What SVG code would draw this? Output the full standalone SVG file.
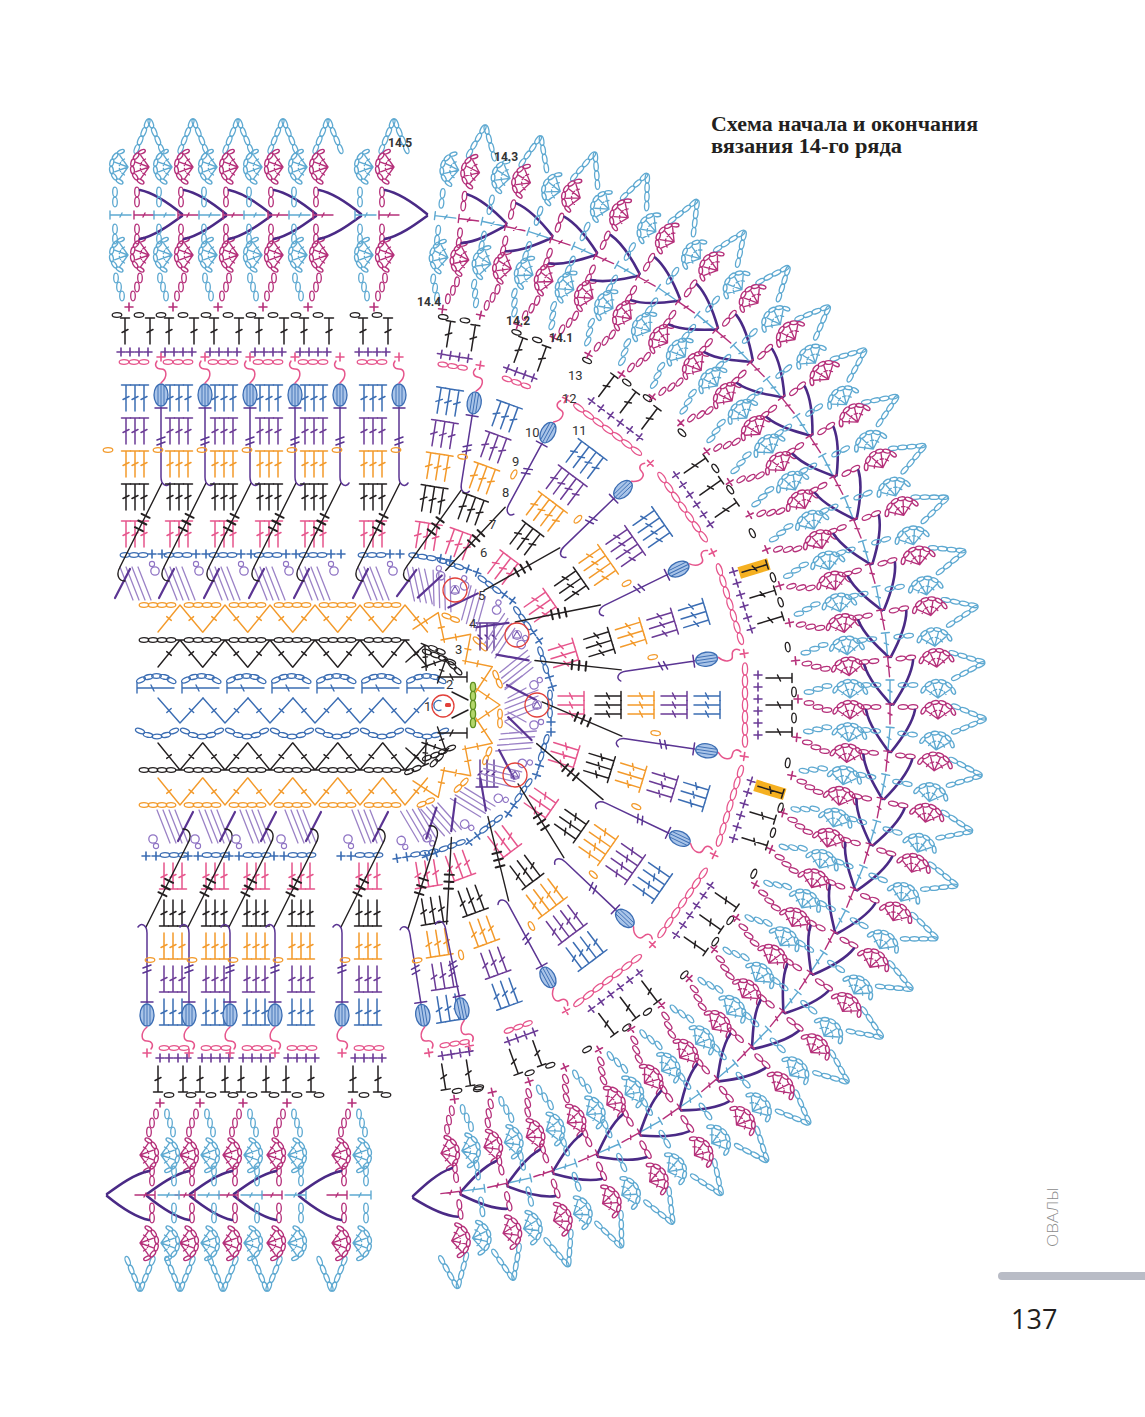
<svg xmlns="http://www.w3.org/2000/svg" width="1145" height="1417" viewBox="0 0 1145 1417">
<style>
.k{fill:none;stroke-linecap:round;stroke-linejoin:round}
.lb{font-family:Roboto,'DejaVu Sans',sans-serif;font-size:13px;fill:#333}
.lb2{font-family:Roboto,'DejaVu Sans',sans-serif;font-size:12px;font-weight:700;fill:#333}
</style>
<defs>
<ellipse id="o" class="k" rx="4.8" ry="2.3" stroke="currentColor" stroke-width="1.3"/>
<ellipse id="oy" class="k" rx="2.3" ry="4.8" stroke="currentColor" stroke-width="1.3"/>
<ellipse id="oyL" class="k" rx="2.6" ry="6.2" stroke="currentColor" stroke-width="1.3"/>
<path id="p" class="k" d="M-4 0H4M0 -4V4" stroke="currentColor" stroke-width="1.6"/>
<path id="t" class="k" d="M0 0H26M26 -4.5V4.5M11.5 -3L14.5 3" stroke="currentColor" stroke-width="1.5"/>
<g id="t3"><use href="#t" y="-9"/><use href="#t"/><use href="#t" y="9"/></g>
<g id="t4"><use href="#t" y="-13.5"/><use href="#t" y="-4.5"/><use href="#t" y="4.5"/><use href="#t" y="13.5"/></g>
<g id="fan" class="k" stroke="currentColor" stroke-width="1.6" transform="scale(0.84)">
<path d="M0 0L-13.9 -9.8M0 0L-5.8 -16M0 0L5.8 -16M0 0L13.9 -9.8M-9.5 -4.2L-7.2 -7.5M-5.4 -8.9L-1.6 -10.3M1.6 -10.3L5.4 -8.9M7.2 -7.5L9.5 -4.2"/>
<ellipse cx="-17.3" cy="-10" rx="4.4" ry="2.2" transform="rotate(300 -17.3 -10)"/>
<ellipse cx="-11.5" cy="-16.4" rx="4.4" ry="2.2" transform="rotate(325 -11.5 -16.4)"/>
<ellipse cx="-3.5" cy="-19.7" rx="4.4" ry="2.2" transform="rotate(350 -3.5 -19.7)"/>
<ellipse cx="5.2" cy="-19.3" rx="4.4" ry="2.2" transform="rotate(15 5.2 -19.3)"/>
<ellipse cx="12.9" cy="-15.3" rx="4.4" ry="2.2" transform="rotate(40 12.9 -15.3)"/>
<ellipse cx="18.1" cy="-8.5" rx="4.4" ry="2.2" transform="rotate(65 18.1 -8.5)"/>
</g>
<g id="arch" class="k" stroke="currentColor" stroke-width="1.3">
<ellipse cx="4" cy="1.7" rx="4.8" ry="2.2" transform="rotate(22 4 1.7)"/>
<ellipse cx="12.6" cy="5.2" rx="4.8" ry="2.2" transform="rotate(22 12.6 5.2)"/>
<ellipse cx="21" cy="8.7" rx="4.8" ry="2.2" transform="rotate(22 21 8.7)"/>
<ellipse cx="29.6" cy="12.2" rx="4.8" ry="2.2" transform="rotate(22 29.6 12.2)"/>
<ellipse cx="29.6" cy="15.8" rx="4.8" ry="2.2" transform="rotate(-22 29.6 15.8)"/>
<ellipse cx="21" cy="19.3" rx="4.8" ry="2.2" transform="rotate(-22 21 19.3)"/>
<ellipse cx="12.6" cy="22.8" rx="4.8" ry="2.2" transform="rotate(-22 12.6 22.8)"/>
<ellipse cx="4" cy="26.3" rx="4.8" ry="2.2" transform="rotate(-22 4 26.3)"/>
</g>
<g id="stackL">
<path class="k" d="M138 -15L105 -2M138 -9L105 4M138 -3L105 10M138 3L105 16" stroke="#9b82c6" stroke-width="1.3"/>
<path class="k" d="M107 -20L136 -5" stroke="#5b3593" stroke-width="2.2"/>
<circle class="k" cx="134" cy="20" r="4.2" stroke="#8f74c4" stroke-width="1.3"/>
<circle class="k" cx="141" cy="17" r="2.6" stroke="#8f74c4" stroke-width="1.1"/>
<g color="#3b6db3"><use href="#oy" x="150" y="-10"/><use href="#oy" x="150" y="-1"/><use href="#oy" x="150" y="8"/><use href="#p" x="151" y="17"/><use href="#p" x="151" y="27"/></g>
</g>
<g id="stack">
<use href="#stackL"/>
<use href="#t3" x="158" color="#e6558c"/>
<use href="#t3" x="195" color="#231f20"/>
<use href="#t3" x="228" color="#f39a2b"/>
<use href="#t3" x="261" color="#6b3b96"/>
<use href="#t3" x="294" color="#3b6db3"/>
</g>
<g id="stack4">
<use href="#stackL"/>
<use href="#t3" x="158" color="#e6558c"/>
<use href="#t3" x="195" color="#231f20"/>
<use href="#t4" x="228" color="#f39a2b"/>
<use href="#t4" x="261" color="#6b3b96"/>
<use href="#t4" x="294" color="#3b6db3"/>
</g>
<g id="outerS">
<g color="#e6558c"><use href="#oy" x="343" y="-11"/><use href="#oy" x="343" y="-1"/><use href="#oy" x="343" y="9"/></g>
<g color="#6b3b96"><use href="#p" x="353" y="-14"/><use href="#p" x="353" y="-5"/><use href="#p" x="353" y="4"/><use href="#p" x="353" y="13"/></g>
<g color="#231f20"><use href="#t" x="361" y="-10"/><use href="#t" x="361" y="15"/><use href="#oy" x="390" y="-18"/><use href="#oy" x="390" y="4"/></g>
</g>
<g id="outerW">
<g color="#e6558c"><use href="#oyL" x="345" y="-36"/><use href="#oyL" x="345" y="-24"/><use href="#oyL" x="345" y="-12"/><use href="#oyL" x="345"/><use href="#oyL" x="345" y="12"/><use href="#oyL" x="345" y="24"/><use href="#oyL" x="345" y="36"/></g>
<g color="#6b3b96"><use href="#p" x="358" y="-30"/><use href="#p" x="358" y="-18"/><use href="#p" x="358" y="-6"/><use href="#p" x="358" y="6"/><use href="#p" x="358" y="18"/><use href="#p" x="358" y="30"/></g>
<g color="#231f20"><use href="#t" x="366" y="-27"/><use href="#t" x="366"/><use href="#t" x="366" y="27"/><use href="#oy" x="394" y="-13"/><use href="#oy" x="394" y="13"/></g>
</g>
<g id="conS">
<path class="k" d="M138 -15L222 27M138 -15C131 -19 124 -17 124 -10" stroke="#231f20" stroke-width="1.4"/>
<path class="k" d="M173.8 7.9L177.8 -0.1M180.5 11.3L184.5 3.3M187.2 14.6L191.2 6.6" stroke="#231f20" stroke-width="2"/>
<path class="k" d="M298 26L228 26C220 26 217 32 222 35M260 22L263 30M265 22L268 30M297 20V32" stroke="#5b3593" stroke-width="1.5"/>
<ellipse cx="310" cy="26" rx="11" ry="7" fill="#a9c4e8" stroke="#3b6db3" stroke-width="1.3"/>
<path class="k" d="M301 23H319M300 26H320M301 29H319" stroke="#3b6db3" stroke-width="0.9"/>
<path class="k" d="M322 26C328 33 336 32 336 26C336 21 340 19 344 22" stroke="#e6558c" stroke-width="1.5"/>
<use href="#p" x="348" y="26" color="#e6558c"/>
<use href="#oy" x="255" y="23" color="#f39a2b"/>
</g>
<g id="conF">
<path class="k" d="M140 -24L224 -2" stroke="#231f20" stroke-width="1.4"/>
<path class="k" d="M177.2 -18.9L175 -10.1M184 -17.1L181.8 -8.3M190.7 -15.3L188.5 -6.5" stroke="#231f20" stroke-width="2"/>
<path class="k" d="M298 0L228 0C220 0 217 6 222 9M262 -4L265 4M267 -4L270 4M297 -6V6" stroke="#5b3593" stroke-width="1.5"/>
<ellipse cx="310" cy="0" rx="11" ry="7" fill="#a9c4e8" stroke="#3b6db3" stroke-width="1.3"/>
<path class="k" d="M301 -3H319M300 0H320M301 3H319" stroke="#3b6db3" stroke-width="0.9"/>
<path class="k" d="M322 0C328 7 336 6 336 0C336 -5 340 -7 344 -4" stroke="#e6558c" stroke-width="1.5"/>
<use href="#p" x="348" color="#e6558c"/>
<use href="#o" x="257" y="-10" color="#f39a2b"/>
<use href="#oy" x="392" color="#231f20"/>
</g>
<g id="colS"><use href="#stack"/><use href="#outerS"/><use href="#conS"/></g>
<g id="mS">
<use href="#p" x="398" y="-6" color="#b5307a"/>
<g color="#5ea9d1">
<use href="#o" x="409" y="-13"/><use href="#o" x="418" y="-16"/><use href="#o" x="427" y="-19"/>
<use href="#fan" x="450" y="-7"/>
<use href="#o" x="466" y="-20"/><use href="#o" x="476" y="-20"/><use href="#o" x="503" y="-20"/><use href="#o" x="513" y="-20"/>
<path class="k" d="M490 -25V-4M486 -25H494M488 -15L492 -13" stroke="currentColor" stroke-width="1.4"/>
<use href="#fan" x="538" y="-7"/>
<use href="#arch" x="552" y="0"/>
</g>
<g color="#b5307a">
<use href="#o" x="409" y="-2"/><use href="#o" x="418" y="2"/><use href="#o" x="427" y="5"/>
<use href="#fan" x="450" y="14"/>
<use href="#o" x="466" y="2"/><use href="#o" x="476" y="2"/><use href="#o" x="503" y="2"/><use href="#o" x="513" y="2"/>
<path class="k" d="M490 -1V19M486 -1H494M488 8L492 10" stroke="currentColor" stroke-width="1.4"/>
<use href="#fan" x="538" y="14"/>
</g>
<path class="k" d="M515 5C512 20 500 36 491 47M466 5C469 20 481 36 489 47" stroke="#4a2a86" stroke-width="2.6"/>
</g>
<g id="u4">
<path class="k" d="M75 -17L100 0L75 17M89.2 -11L85.8 -6M89.2 11L85.8 6" stroke="#f39a2b" stroke-width="1.4"/>
<g color="#f39a2b"><use href="#oy" x="100" y="9"/><use href="#oy" x="100" y="18"/></g>
</g>
<g id="u3">
<path class="k" d="M42 -11L65 0L42 11M65 -4V4M55 -7L53 -3M55 7L53 3" stroke="#231f20" stroke-width="1.4"/>
<g color="#231f20"><use href="#oy" x="65" y="9"/><use href="#oy" x="65" y="17"/></g>
</g>
<g id="z4">
<path class="k" d="M0 27L22 0L44.5 27M8.7 11.6L13.3 15.4M35.6 11.6L31 15.4" stroke="#f39a2b" stroke-width="1.4"/>
<g color="#f39a2b"><use href="#o" x="-14"/><use href="#o" x="-5"/><use href="#o" x="4"/><use href="#o" x="13"/></g>
</g>
<g id="z3">
<path class="k" d="M0 27L22 0L44.5 27M18 0H26M8.7 11.6L13.3 15.4M35.6 11.6L31 15.4" stroke="#231f20" stroke-width="1.4"/>
<g color="#231f20"><use href="#o" x="-14"/><use href="#o" x="-5"/><use href="#o" x="4"/><use href="#o" x="13"/></g>
</g>
<g id="r2" color="#3b6db3">
<path class="k" d="M0 0H37M0 -5V5M14 -3L17 3" stroke="#3b6db3" stroke-width="1.4"/>
<use href="#o" transform="translate(4 -8) rotate(-25)"/>
<use href="#o" transform="translate(11.5 -11) rotate(-12)"/>
<use href="#o" transform="translate(19.5 -12)"/>
<use href="#o" transform="translate(27.5 -11) rotate(12)"/>
<use href="#o" transform="translate(34.5 -7.5) rotate(28)"/>
</g>
<path id="r1" class="k" d="M0 0L22 25L45 0M13.2 10.5L8.8 14.5M35.7 14.5L31.3 10.5" stroke="#3b6db3" stroke-width="1.4"/>
<g id="r1b" color="#3b6db3">
<use href="#o" transform="translate(3 1) rotate(22)"/>
<use href="#o" transform="translate(11 5) rotate(12)"/>
<use href="#o" transform="translate(20 6.5)"/>
<use href="#o" transform="translate(29 5) rotate(-12)"/>
<use href="#o" transform="translate(37 1) rotate(-22)"/>
</g>
<g id="rc"><circle class="k" r="12" stroke="#e2403a" stroke-width="1.3"/><circle class="k" r="4.5" stroke="#9b82c6" stroke-width="1.2"/><path class="k" d="M-4 3L0 -4L4 3Z" stroke="#7a5cb5" stroke-width="1.1"/></g>
</defs>
<rect width="1145" height="1417" fill="#ffffff"/>

<g id="inner-rows">
<g id="r34">
<use href="#z4" x="158" y="605"/><use href="#z4" x="203" y="605"/><use href="#z4" x="248" y="605"/><use href="#z4" x="293" y="605"/><use href="#z4" x="338" y="605"/><use href="#z4" x="383" y="605"/>
<use href="#z3" x="158" y="640"/><use href="#z3" x="203" y="640"/><use href="#z3" x="248" y="640"/><use href="#z3" x="293" y="640"/><use href="#z3" x="338" y="640"/><use href="#z3" x="383" y="640"/>
</g>
<use href="#r34" transform="translate(0 1410) scale(1 -1)"/>
<use href="#r2" x="137" y="688"/><use href="#r2" x="182" y="688"/><use href="#r2" x="227" y="688"/><use href="#r2" x="272" y="688"/><use href="#r2" x="317" y="688"/><use href="#r2" x="362" y="688"/><use href="#r2" x="407" y="688"/>
<use href="#r1" x="158" y="698"/><use href="#r1" x="203" y="698"/><use href="#r1" x="248" y="698"/><use href="#r1" x="293" y="698"/><use href="#r1" x="338" y="698"/><use href="#r1" x="383" y="698"/>
<use href="#r1b" x="137" y="730"/><use href="#r1b" x="182" y="730"/><use href="#r1b" x="227" y="730"/><use href="#r1b" x="272" y="730"/><use href="#r1b" x="317" y="730"/><use href="#r1b" x="362" y="730"/><use href="#r1b" x="407" y="730"/>
<use href="#u4" transform="translate(400 705) rotate(-67.5)"/><use href="#u4" transform="translate(400 705) rotate(-45)"/><use href="#u4" transform="translate(400 705) rotate(-22.5)"/><use href="#u4" transform="translate(400 705)"/><use href="#u4" transform="translate(400 705) rotate(22.5)"/><use href="#u4" transform="translate(400 705) rotate(45)"/><use href="#u4" transform="translate(400 705) rotate(67.5)"/>
<use href="#u3" transform="translate(400 705) rotate(-67.5)"/><use href="#u3" transform="translate(400 705) rotate(-45)"/><use href="#u3" transform="translate(400 705) rotate(45)"/><use href="#u3" transform="translate(400 705) rotate(67.5)"/>
<g fill="#b3d66b" stroke="#5e8f1f" stroke-width="1.3">
<ellipse cx="473" cy="687" rx="2.6" ry="4.6"/><ellipse cx="473" cy="696" rx="2.6" ry="4.6"/><ellipse cx="473" cy="705" rx="2.6" ry="4.6"/><ellipse cx="473" cy="714" rx="2.6" ry="4.6"/><ellipse cx="473" cy="723" rx="2.6" ry="4.6"/>
</g>
<g color="#231f20">
<use href="#o" transform="translate(427 652) rotate(22)"/><use href="#o" transform="translate(435 655) rotate(22)"/><use href="#o" transform="translate(443 658.5) rotate(22)"/><use href="#o" transform="translate(451 662) rotate(22)"/>
<use href="#o" transform="translate(427 758) rotate(-22)"/><use href="#o" transform="translate(435 755) rotate(-22)"/><use href="#o" transform="translate(443 751.5) rotate(-22)"/><use href="#o" transform="translate(451 748) rotate(-22)"/>
</g>
<path class="k" d="M438 677H467M467 672V682M450 674L453 680M438 733H467M467 728V738M450 736L453 730M452 692L468 700M452 718L468 710" stroke="#231f20" stroke-width="1.4"/>
<path class="k" d="M480 650V624M487 650V624M494 650V624M476 623H498M478 635L482 639M485 635L489 639M492 635L496 639M480 760V786M487 760V786M494 760V786M476 787H498M478 775L482 771M485 775L489 771M492 775L496 771" stroke="#5b3593" stroke-width="1.4"/>
<path class="k" d="M505 688L522 676M508 698L526 688M508 712L526 722M505 722L522 734" stroke="#9b82c6" stroke-width="1.3"/>
<use href="#o" x="108" y="450" color="#f39a2b"/>
</g>

<g id="strip-top">
<use href="#colS" transform="translate(135 705) rotate(-90)"/>
<use href="#colS" transform="translate(179 705) rotate(-90)"/>
<use href="#colS" transform="translate(224 705) rotate(-90)"/>
<use href="#colS" transform="translate(269 705) rotate(-90)"/>
<use href="#colS" transform="translate(314 705) rotate(-90)"/>
<use href="#colS" transform="translate(373 705) rotate(-90)"/>
</g>
<g id="strip-bottom">
<use href="#colS" transform="translate(173 705) rotate(90)"/>
<use href="#colS" transform="translate(215 705) rotate(90)"/>
<use href="#colS" transform="translate(256 705) rotate(90)"/>
<use href="#colS" transform="translate(301 705) rotate(90)"/>
<use href="#colS" transform="translate(368 705) rotate(90)"/>
</g>

<g id="fan-sectors">
<g transform="translate(400 705) rotate(-81)"><use href="#stack"/><use href="#outerS"/><use href="#conS"/></g>
<g transform="translate(400 705) rotate(-70)"><use href="#stack"/><use href="#outerS"/></g>
<g transform="translate(400 705) rotate(-53)"><use href="#stack4"/><use href="#outerW"/></g>
<g transform="translate(400 705) rotate(-35)"><use href="#stack4"/><use href="#outerW"/></g>
<g transform="translate(400 705) rotate(-17)"><rect x="363" y="-33" width="31" height="12" fill="#f5b021"/><use href="#stack"/><use href="#outerW"/></g>
<g transform="translate(400 705)"><use href="#stack"/><use href="#outerW"/></g>
<g transform="translate(400 705) rotate(17)"><rect x="363" y="-33" width="31" height="12" fill="#f5b021"/><use href="#stack"/><use href="#outerW"/></g>
<g transform="translate(400 705) rotate(35)"><use href="#stack4"/><use href="#outerW"/></g>
<g transform="translate(400 705) rotate(53)"><use href="#stack4"/><use href="#outerW"/></g>
<g transform="translate(400 705) rotate(70)"><use href="#stack"/><use href="#outerS"/></g>
<g transform="translate(400 705) rotate(81)"><use href="#stack"/><use href="#outerS"/><use href="#conS"/></g>
</g>

<g id="connectors">
<use href="#conF" transform="translate(400 705) rotate(-61.5)"/>
<use href="#conF" transform="translate(400 705) rotate(-44)"/>
<use href="#conF" transform="translate(400 705) rotate(-26)"/>
<use href="#conF" transform="translate(400 705) rotate(-8.5)"/>
<use href="#conF" transform="translate(400 705) rotate(8.5)"/>
<use href="#conF" transform="translate(400 705) rotate(25.5)"/>
<use href="#conF" transform="translate(400 705) rotate(43.5)"/>
<use href="#conF" transform="translate(400 705) rotate(61.5)"/>
<use href="#conF" transform="translate(400 705) rotate(78.5)"/>
</g>

<g id="red-circles">
<use href="#rc" x="455" y="590"/><use href="#rc" x="517" y="635"/><use href="#rc" x="537" y="705"/><use href="#rc" x="515" y="775"/>
<circle class="k" cx="443" cy="706" r="11" stroke="#e2403a" stroke-width="1.3"/>
<rect x="445" y="703" width="6" height="4" rx="1.5" fill="#e2403a"/>
<path class="k" d="M441 701A5 5 0 1 0 441 710" stroke="#3b6db3" stroke-width="1.3"/>
</g>

<g id="motifs">
<use href="#mS" transform="translate(135 705) rotate(-90)"/>
<use href="#mS" transform="translate(179 705) rotate(-90)"/>
<use href="#mS" transform="translate(224 705) rotate(-90)"/>
<use href="#mS" transform="translate(269 705) rotate(-90)"/>
<use href="#mS" transform="translate(314 705) rotate(-90)"/>
<use href="#mS" transform="translate(380 705) rotate(-90)"/>
<use href="#mS" transform="translate(400 705) rotate(-83)"/>
<use href="#mS" transform="translate(400 705) rotate(-77.47)"/>
<use href="#mS" transform="translate(400 705) rotate(-71.93)"/>
<use href="#mS" transform="translate(400 705) rotate(-66.4)"/>
<use href="#mS" transform="translate(400 705) rotate(-60.87)"/>
<use href="#mS" transform="translate(400 705) rotate(-55.33)"/>
<use href="#mS" transform="translate(400 705) rotate(-49.8)"/>
<use href="#mS" transform="translate(400 705) rotate(-44.27)"/>
<use href="#mS" transform="translate(400 705) rotate(-38.73)"/>
<use href="#mS" transform="translate(400 705) rotate(-33.2)"/>
<use href="#mS" transform="translate(400 705) rotate(-27.67)"/>
<use href="#mS" transform="translate(400 705) rotate(-22.13)"/>
<use href="#mS" transform="translate(400 705) rotate(-16.6)"/>
<use href="#mS" transform="translate(400 705) rotate(-11.07)"/>
<use href="#mS" transform="translate(400 705) rotate(-5.53)"/>
<use href="#mS" transform="translate(400 705)"/>
<use href="#mS" transform="translate(400 705) rotate(5.53)"/>
<use href="#mS" transform="translate(400 705) rotate(11.07)"/>
<use href="#mS" transform="translate(400 705) rotate(16.6)"/>
<use href="#mS" transform="translate(400 705) rotate(22.13)"/>
<use href="#mS" transform="translate(400 705) rotate(27.67)"/>
<use href="#mS" transform="translate(400 705) rotate(33.2)"/>
<use href="#mS" transform="translate(400 705) rotate(38.73)"/>
<use href="#mS" transform="translate(400 705) rotate(44.27)"/>
<use href="#mS" transform="translate(400 705) rotate(49.8)"/>
<use href="#mS" transform="translate(400 705) rotate(55.33)"/>
<use href="#mS" transform="translate(400 705) rotate(60.87)"/>
<use href="#mS" transform="translate(400 705) rotate(66.4)"/>
<use href="#mS" transform="translate(400 705) rotate(71.93)"/>
<use href="#mS" transform="translate(400 705) rotate(77.47)"/>
<use href="#mS" transform="translate(400 705) rotate(83)"/>
<use href="#mS" transform="translate(346 705) rotate(90)"/>
<use href="#mS" transform="translate(281 705) rotate(90)"/>
<use href="#mS" transform="translate(237 705) rotate(90)"/>
<use href="#mS" transform="translate(194 705) rotate(90)"/>
<use href="#mS" transform="translate(154 705) rotate(90)"/>
</g>

<g id="labels">
<text class="lb" x="424" y="711">1</text>
<text class="lb" x="446" y="689">2</text>
<text class="lb" x="455" y="654">3</text>
<text class="lb" x="469" y="628">4</text>
<text class="lb" x="478" y="600">5</text>
<text class="lb" x="480" y="557">6</text>
<text class="lb" x="489" y="529">7</text>
<text class="lb" x="502" y="497">8</text>
<text class="lb" x="512" y="466">9</text>
<text class="lb" x="525" y="437">10</text>
<text class="lb" x="572" y="435">11</text>
<text class="lb" x="562" y="403">12</text>
<text class="lb" x="568" y="380">13</text>
<text class="lb2" x="549" y="342">14.1</text>
<text class="lb2" x="506" y="325">14.2</text>
<text class="lb2" x="494" y="161">14.3</text>
<text class="lb2" x="417" y="306">14.4</text>
<text class="lb2" x="388" y="147">14.5</text>
</g>

<g id="title">
<text x="711" y="131" font-family="'Liberation Serif','Times New Roman',serif" font-weight="bold" font-size="20" fill="#231f20" textLength="267" lengthAdjust="spacingAndGlyphs">Схема начала и окончания</text>
<text x="711" y="153" font-family="'Liberation Serif','Times New Roman',serif" font-weight="bold" font-size="20" fill="#231f20" textLength="191" lengthAdjust="spacingAndGlyphs">вязания 14-го ряда</text>
</g>

<g id="page">
<text transform="translate(1058 1247) rotate(-90)" font-family="'Open Sans',sans-serif" font-weight="300" font-size="15" fill="#8c8c8c" textLength="60" lengthAdjust="spacingAndGlyphs">ОВАЛЫ</text>
<path d="M1002 1272H1145V1280H1002A4 4 0 0 1 1002 1272Z" fill="#b9bcc6"/>
<text x="1011" y="1329" font-family="'Open Sans',sans-serif" font-size="27" fill="#231f20">137</text>
</g>
</svg>
